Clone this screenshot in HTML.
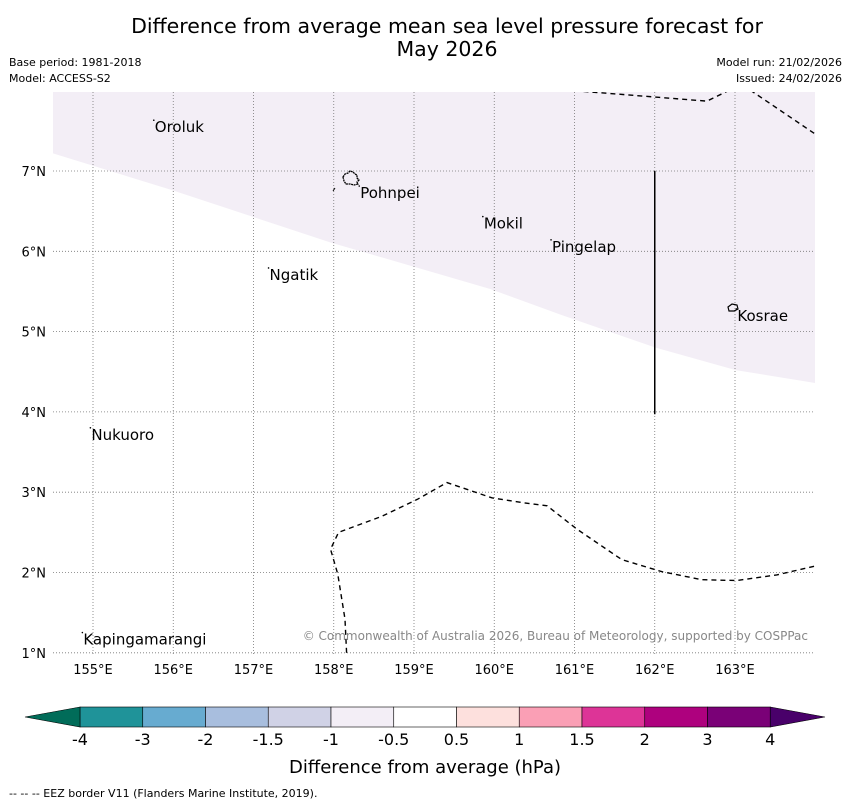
<!DOCTYPE html>
<html><head><meta charset="utf-8"><style>
body{margin:0;background:#fff;font-family:"Liberation Sans","DejaVu Sans",sans-serif}
svg text{font-family:"DejaVu Sans","Liberation Sans",sans-serif}
</style></head><body>
<svg id="c" width="850" height="804" xmlns="http://www.w3.org/2000/svg">
<text x="447" y="33" font-size="20.5" text-anchor="middle">Difference from average mean sea level pressure forecast for</text>
<text x="447" y="56" font-size="20.5" text-anchor="middle">May 2026</text>
<text x="9" y="66" font-size="11">Base period: 1981-2018</text>
<text x="9" y="82" font-size="11">Model: ACCESS-S2</text>
<text x="842" y="66" font-size="11" text-anchor="end">Model run: 21/02/2026</text>
<text x="842" y="82" font-size="11" text-anchor="end">Issued: 24/02/2026</text>
<defs><clipPath id="mc"><rect x="53" y="92" width="762" height="562"/></clipPath></defs>
<g id="map" clip-path="url(#mc)"></g>
<g id="axes"></g>
<g id="cbar"></g>
<text x="425" y="773" font-size="18" text-anchor="middle">Difference from average (hPa)</text>
<text x="9" y="797" font-size="11">--  --  -- EEZ border V11 (Flanders Marine Institute, 2019).</text>
</svg>
<script>
const lonTicks=[155,156,157,158,159,160,161,162,163];
const latTicks=[1,2,3,4,5,6,7];
const levels=[-4,-3,-2,-1.5,-1,-0.5,0.5,1,1.5,2,3,4];
const levelLabels=["-4","-3","-2","-1.5","-1","-0.5","0.5","1","1.5","2","3","4"];
const binColors=["#1f9399","#67abd0","#a8bede","#d0d2e6","#f3eef6","#ffffff","#fde0dd","#fa9fb5","#dd3497","#ae017e","#7a0177"];
const underColor="#016c59", overColor="#49006a";
const shadeLon=[154.5,155.96,157.96,159.95,160.83,162.01,163.01,164];
const shadeLat=[7.22,6.77,6.11,5.53,5.21,4.80,4.52,4.36];
const islandNames=["Oroluk","Pohnpei","Mokil","Pingelap","Ngatik","Kosrae","Nukuoro","Kapingamarangi"];
const islandLon=[155.77,158.33,159.87,160.72,157.2,163.03,154.98,154.88];
const islandLat=[7.62,6.8,6.42,6.13,5.78,5.27,3.79,1.24];
const eezTopLon=[161.0,162.65,163.02,163.2,164.0];
const eezTopLat=[8.0,7.87,8.05,8.0,7.46];
const eezBotLon=[158.16,158.14,158.05,157.96,158.06,158.6,159.04,159.41,159.97,160.35,160.66,161.03,161.59,162.09,162.59,163.02,163.52,164.0];
const eezBotLat=[1.0,1.42,1.98,2.29,2.5,2.7,2.91,3.12,2.93,2.87,2.83,2.54,2.16,2.01,1.91,1.9,1.97,2.08];
const X=lon=>93+(lon-155)*80.25, Y=lat=>171+(7-lat)*80.3;
const NS="http://www.w3.org/2000/svg";
function mk(t,a,p){const e=document.createElementNS(NS,t);for(const k in a)e.setAttribute(k,a[k]);p.appendChild(e);return e;}
const map=document.getElementById('map'),axes=document.getElementById('axes'),cb=document.getElementById('cbar');
let d="M53,92 L815,92 ";for(let i=shadeLon.length-1;i>=0;i--)d+="L"+X(shadeLon[i])+","+Y(shadeLat[i])+" ";
const sh=mk('path',{d:d+"Z",fill:"#f3eef6"},map);


lonTicks.forEach(l=>{const g=mk('line',{x1:X(l),x2:X(l),y1:92,y2:654,stroke:"#777","stroke-width":0.8,"stroke-dasharray":"1,2"},map);


const t=mk('text',{x:X(l),y:674,"font-size":13,"text-anchor":"middle"},axes);t.textContent=l+"°E";

});
latTicks.forEach(l=>{const g=mk('line',{x1:53,x2:815,y1:Y(l),y2:Y(l),stroke:"#777","stroke-width":0.8,"stroke-dasharray":"1,2"},map);


const t=mk('text',{x:46,y:Y(l)+5,"font-size":13,"text-anchor":"end"},axes);t.textContent=l+"°N";

});
function pl(lo,la,name){const p=mk('polyline',{points:lo.map((v,i)=>X(v)+","+Y(la[i])).join(" "),fill:"none",stroke:"#000","stroke-width":1.4,"stroke-dasharray":"5,4"},map);

}
pl(eezTopLon,eezTopLat,'eez-border-north');pl(eezBotLon,eezBotLat,'eez-border-south');
const v=mk('line',{x1:X(162),x2:X(162),y1:Y(7),y2:Y(3.97),stroke:"#000","stroke-width":1.5},map);


const ps=mk('path',{d:"M343,177 l2,-3 l3,-1 l2,-2 l3,1 l2,2 l2,1 l0,3 l2,2 l-2,2 l1,2 l-4,1 l-4,-1 l-4,0 l-2,-3 z",fill:"none",stroke:"#000","stroke-width":1.3,"stroke-dasharray":"2,0.6"},map);


mk('line',{x1:333,y1:191,x2:335,y2:188,stroke:"#000","stroke-width":1},map);
const ks=mk('path',{d:"M728,307 l4,-3 l5,1 l1,4 l-4,2 l-5,0 z",fill:"none",stroke:"#000","stroke-width":1.2},map);


islandNames.forEach((n,i)=>{const t=mk('text',{x:X(islandLon[i]),y:Y(islandLat[i])+11,"font-size":15},map);t.textContent=n;


mk('circle',{cx:X(islandLon[i])-1,cy:Y(islandLat[i])-1,r:0.8,fill:"#000"},map);});
const cp=mk('text',{x:808,y:640,"font-size":12,fill:"#888","text-anchor":"end"},map);cp.textContent="© Commonwealth of Australia 2026, Bureau of Meteorology, supported by COSPPac";


const bx0=80,bw=62.75,by=707,bh=20;
binColors.forEach((c,i)=>{const r=mk('rect',{x:bx0+i*bw,y:by,width:bw,height:bh,fill:c,stroke:"#000","stroke-width":0.6},cb);

});
const bx1=bx0+binColors.length*bw;
const tl=mk('polygon',{points:`${bx0},${by} 25,${by+bh/2} ${bx0},${by+bh}`,fill:underColor,stroke:"#000","stroke-width":0.6},cb);


const tr=mk('polygon',{points:`${bx1},${by} 825,${by+bh/2} ${bx1},${by+bh}`,fill:overColor,stroke:"#000","stroke-width":0.6},cb);


levels.forEach((l,i)=>{const t=mk('text',{x:bx0+i*bw,y:745,"font-size":16,"text-anchor":"middle"},cb);t.textContent=levelLabels[i];

});
</script>
</body></html>
